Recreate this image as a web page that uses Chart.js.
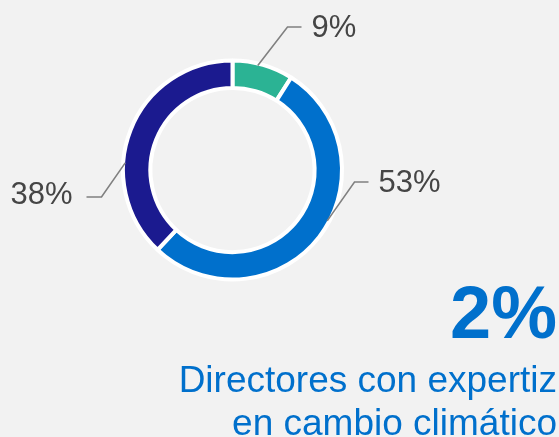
<!DOCTYPE html>
<html>
<head>
<meta charset="utf-8">
<script src="https://cdn.jsdelivr.net/npm/chart.js@4"></script>
<style>
  html, body { margin: 0; padding: 0; background: #f2f2f2; }
  canvas { display: block; }
</style>
</head>
<body>
<canvas id="donut" width="559" height="437"></canvas>
<script>
const categories = ["Grupo A", "Grupo B", "Grupo C"];
const shares = [9, 53, 38];
const sliceColors = ["#2bb394", "#0070cc", "#1b1a8f"];
const headline = "2%";
const caption = ["Directores con expertiz", "en cambio climático"];

const FONT = '"Liberation Sans", Arial, sans-serif';

// where each leader leaves its slice (fraction of the arc), elbow and end (offset from centre)
const leaders = [
  { at: 0.42, elbow: [55, -143], end: [69, -143], side: "right" },
  { at: 0.45, elbow: [122, 12], end: [136, 12], side: "right" },
  { at: 0.37, elbow: [-131, 27], end: [-146, 27], side: "left" },
];

const leaderPlugin = {
  id: "leaders",
  afterDatasetsDraw(chart) {
    const ctx = chart.ctx;
    const arcs = chart.getDatasetMeta(0).data;
    ctx.save();
    arcs.forEach((arc, i) => {
      const p = arc.getProps(["x", "y", "startAngle", "endAngle", "outerRadius"], true);
      const l = leaders[i];
      const a = p.startAngle + l.at * (p.endAngle - p.startAngle);
      const sx = p.x + Math.cos(a) * (p.outerRadius - 2);
      const sy = p.y + Math.sin(a) * (p.outerRadius - 2);
      ctx.strokeStyle = "#808080";
      ctx.lineWidth = 1.6;
      ctx.beginPath();
      ctx.moveTo(sx, sy);
      ctx.lineTo(p.x + l.elbow[0], p.y + l.elbow[1]);
      ctx.lineTo(p.x + l.end[0], p.y + l.end[1]);
      ctx.stroke();

      ctx.fillStyle = "#454545";
      ctx.font = "31px " + FONT;
      ctx.textBaseline = "middle";
      if (l.side === "right") {
        ctx.textAlign = "left";
        ctx.fillText(shares[i] + "%", p.x + l.end[0] + 10, p.y + l.end[1] + 1);
      } else {
        ctx.textAlign = "right";
        ctx.fillText(shares[i] + "%", p.x + l.end[0] - 14, p.y + l.end[1] - 2);
      }
    });

    // headline figure and caption, right aligned
    ctx.fillStyle = "#0070cc";
    ctx.textAlign = "right";
    ctx.textBaseline = "alphabetic";
    ctx.font = "bold 74px " + FONT;
    ctx.fillText(headline, 557, 338);
    ctx.font = "37px " + FONT;
    caption.forEach((line, i) => ctx.fillText(line, 557, 392 + i * 43));
    ctx.restore();
  },
};

new Chart(document.getElementById("donut"), {
  type: "doughnut",
  data: {
    labels: categories,
    datasets: [{
      data: shares,
      backgroundColor: sliceColors,
      borderColor: "#ffffff",
      borderWidth: 4,
    }],
  },
  options: {
    responsive: false,
    animation: false,
    radius: 109.5,
    cutout: "75%",
    layout: { padding: { left: 0, right: 94, top: 0, bottom: 97 } },
    plugins: {
      legend: { display: false },
      tooltip: { enabled: false },
    },
  },
  plugins: [leaderPlugin],
});
</script>
</body>
</html>
